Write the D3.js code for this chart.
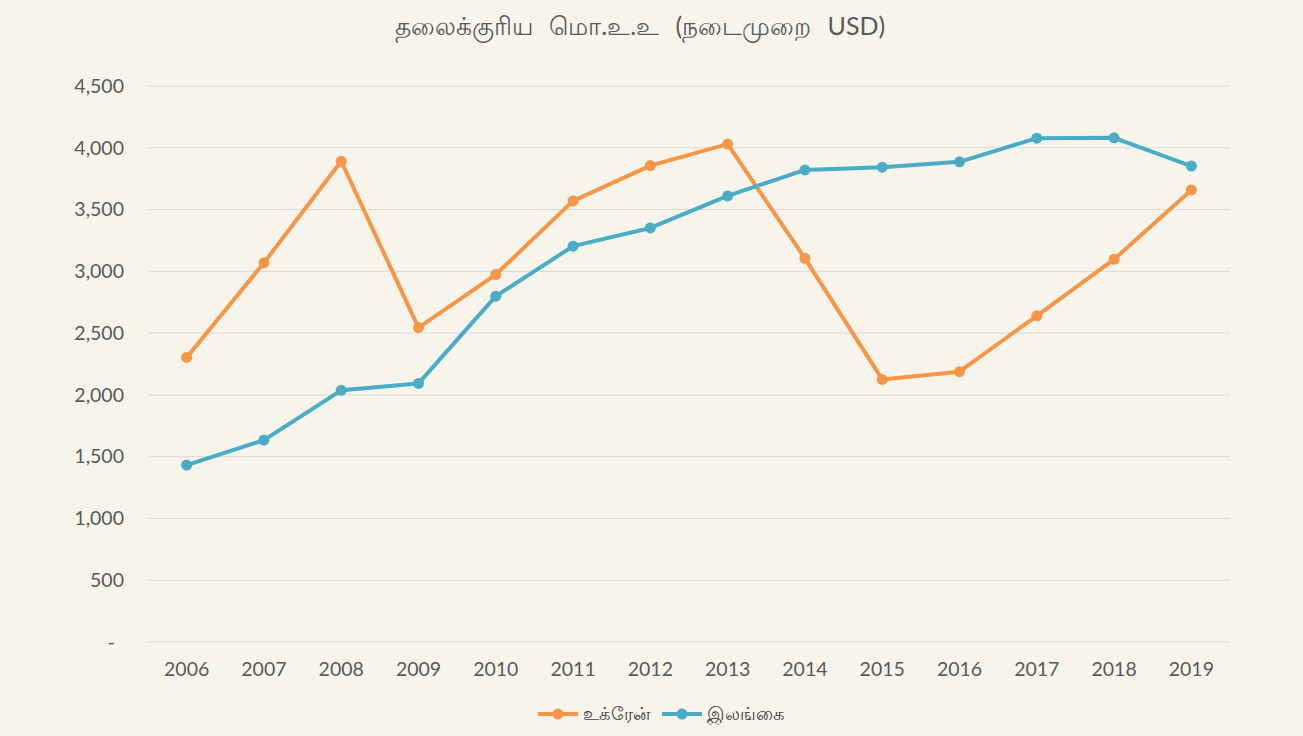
<!DOCTYPE html>
<html lang="ta">
<head>
    <meta charset="UTF-8">
    <title>தலைக்குரிய மொ.உ.உ</title>
    <script src="https://cdn.jsdelivr.net/npm/d3@7"></script>
    <style>
        body { margin: 0; background: #f7f5eb; }
        text { font-family: Lato, "Noto Sans", sans-serif; }
    </style>
</head>
<body>
<div id="chart"></div>
<script>
    // data
    var years = ["2006", "2007", "2008", "2009", "2010", "2011", "2012", "2013", "2014", "2015", "2016", "2017", "2018", "2019"];
    var ukraine = [2303, 3069, 3891, 2545, 2974, 3570, 3856, 4030, 3105, 2125, 2188, 2640, 3097, 3659];
    var sriLanka = [1432, 1634, 2037, 2093, 2799, 3204, 3351, 3610, 3821, 3843, 3886, 4078, 4081, 3852];
    var yTicks = [0, 500, 1000, 1500, 2000, 2500, 3000, 3500, 4000, 4500];
    var seriesNames = ["உக்ரேன்", "இலங்கை"];
    var colors = ["#f79646", "#4bacc6"];

    var W = 1303, H = 736;
    var margin = {top: 86, right: 73, bottom: 94, left: 148};
    var width = W - margin.left - margin.right,
        height = H - margin.top - margin.bottom;

    var svg = d3.select("#chart")
        .append("svg")
        .attr("width", W)
        .attr("height", H);

    svg.append("rect")
        .attr("width", W)
        .attr("height", H)
        .attr("fill", "#f7f5eb");

    svg.append("text")
        .attr("x", 640)
        .attr("y", 35)
        .attr("text-anchor", "middle")
        .attr("fill", "#595959")
        .style("font-size", "25px")
        .style("word-spacing", "10px")
        .text("தலைக்குரிய மொ.உ.உ (நடைமுறை USD)");

    var g = svg.append("g")
        .attr("transform", "translate(" + margin.left + "," + margin.top + ")");

    var x = d3.scaleBand()
        .domain(years)
        .range([0, width]);

    var y = d3.scaleLinear()
        .domain([0, 4500])
        .range([height, 0]);

    // gridlines
    g.append("g")
        .selectAll("line")
        .data(yTicks)
        .enter()
        .append("line")
        .attr("x1", 0)
        .attr("x2", width)
        .attr("y1", d => y(d))
        .attr("y2", d => y(d))
        .attr("stroke", "#d9d9d9")
        .attr("stroke-width", 1);

    var yAxis = d3.axisLeft(y)
        .tickValues(yTicks)
        .tickSize(0)
        .tickPadding(24)
        .tickFormat(d => d === 0 ? "-" : d3.format(",")(d));
    var ya = g.append("g").call(yAxis);
    ya.select(".domain").remove();
    ya.selectAll("text")
        .attr("fill", "#595959")
        .style("font-size", "19.5px")
        .attr("dx", d => d === 0 ? "-9px" : 0);

    var xAxis = d3.axisBottom(x).tickSize(0).tickPadding(20);
    var xa = g.append("g")
        .attr("transform", "translate(0," + height + ")")
        .call(xAxis);
    xa.select(".domain").remove();
    xa.selectAll("text")
        .attr("fill", "#595959")
        .style("font-size", "19.5px");

    var line = d3.line()
        .x((d, i) => x(years[i]) + x.bandwidth() / 2)
        .y(d => y(d));

    [ukraine, sriLanka].forEach(function (vals, k) {
        g.append("path")
            .datum(vals)
            .attr("fill", "none")
            .attr("stroke", colors[k])
            .attr("stroke-width", 4)
            .attr("stroke-linejoin", "round")
            .attr("d", line);
        g.selectAll(".dot" + k)
            .data(vals)
            .enter()
            .append("circle")
            .attr("class", "dot" + k)
            .attr("cx", (d, i) => x(years[i]) + x.bandwidth() / 2)
            .attr("cy", d => y(d))
            .attr("r", 5.5)
            .attr("fill", colors[k]);
    });

    // legend
    var legend = svg.append("g")
        .attr("transform", "translate(538,714)");
    var lx = [0, 124];
    seriesNames.forEach(function (name, k) {
        var lg = legend.append("g").attr("transform", "translate(" + lx[k] + ",0)");
        lg.append("line")
            .attr("x1", 0).attr("x2", 40)
            .attr("stroke", colors[k])
            .attr("stroke-width", 4);
        lg.append("circle")
            .attr("cx", 20)
            .attr("r", 5.5)
            .attr("fill", colors[k]);
        lg.append("text")
            .attr("x", 45)
            .attr("dy", "0.35em")
            .attr("fill", "#404040")
            .style("font-size", "18px")
            .text(name);
    });
</script>
</body>
</html>
